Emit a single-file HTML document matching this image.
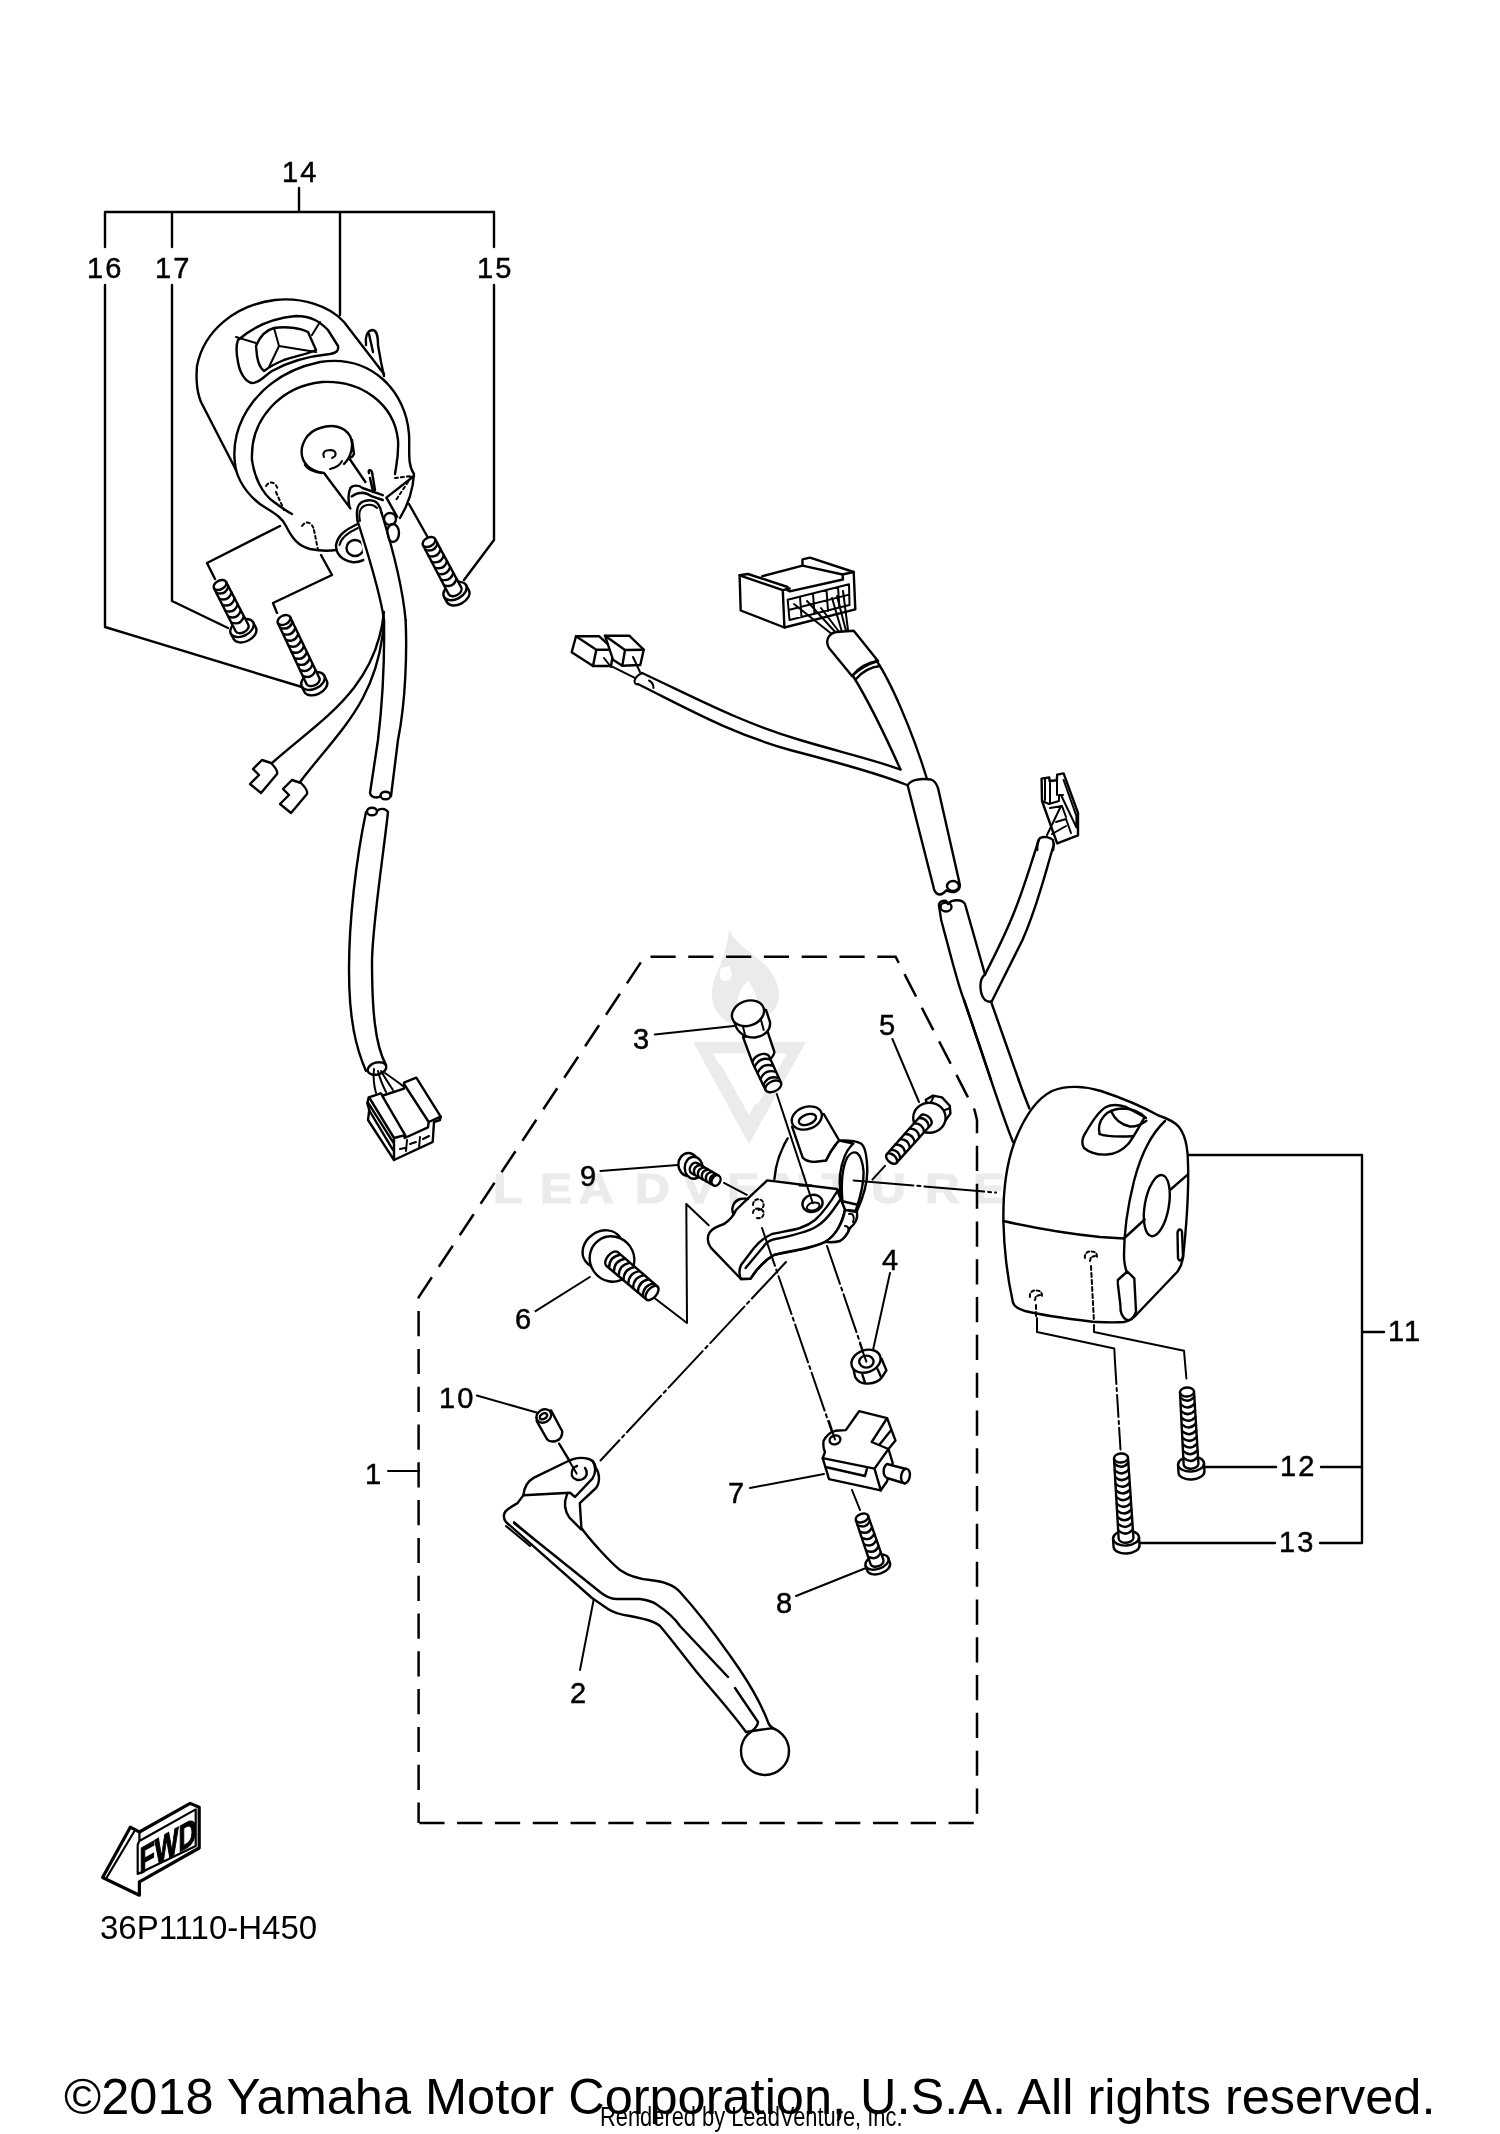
<!DOCTYPE html>
<html><head><meta charset="utf-8">
<style>
html,body{margin:0;padding:0;background:#fff;width:1500px;height:2134px;overflow:hidden}
svg{display:block;position:absolute;left:0;top:0;will-change:transform}
.s{stroke:#000;stroke-width:2.4;fill:none;stroke-linecap:round;stroke-linejoin:round}
.f{stroke:#000;stroke-width:2.4;fill:#fff;stroke-linecap:round;stroke-linejoin:round}
.th{stroke:#000;stroke-width:2;fill:none;stroke-linecap:round;stroke-linejoin:round}
.dl{stroke:#000;stroke-width:2.4;fill:none;stroke-dasharray:24 13}
.dd{stroke:#000;stroke-width:2.2;fill:none;stroke-dasharray:60 6 4 6}
.t{font-family:"Liberation Sans",sans-serif;font-size:29px;fill:#000;stroke:#000;stroke-width:0.5;letter-spacing:2px}
.wm{fill:#e8e8e8}
</style></head>
<body>
<svg width="1500" height="2134" viewBox="0 0 1500 2134">
<!-- watermark -->
<g id="wm" fill="#ebebeb" stroke="none">
<path d="M729,929.7 C727,945 724,958 718,970 C713,980 711,990 712.3,998 C713,1008 718,1016 728,1022 C736,1026 748,1026 758,1022 C772,1016 780,1005 779,993 C778,980 770,968 760,960 C748,950 736,944 729,929.7 Z M721,968 C718,975 720,982 727,981 C733,980 733,972 729,966 Z M748,980 C740,990 734,1000 740,1010 C746,1016 756,1012 757,1004 C758,995 752,988 748,980 Z" fill-rule="evenodd"/>
<path d="M693,1041.8 L806,1041.8 L749,1144 Z M713,1053.6 L787,1053.6 L749,1120 Z" fill-rule="evenodd"/>
<path d="M707,1065 L721,1065 L749,1115 L756,1103 L763,1115 L749,1141 Z"/>
<text transform="scale(1.12 1)" x="440.2 482.1 517.0 567.0 609.8 649.1 691.1 733.9 777.7 825.9 868.7" y="1203" style="font-family:'Liberation Sans',sans-serif;font-weight:bold;font-size:43px" stroke="#ebebeb" stroke-width="1.2">LEADVENTURE</text>
</g>
<!-- top-left switch housing 14 -->
<g id="housing14">
<!-- back housing outline -->
<path class="s" d="M236,470 L201,402 C196,390 196,378 197,366 C204,330 236,305 275,300 C302,297 330,306 344,322 L384,374"/>
<!-- lever tab -->
<path class="s" d="M366,345 C365,337 367,331 372,330 C377,330 378,336 378,345 L381,362 L384,376 M369,334 L373,352"/>
<!-- front ring outer -->
<path class="s" d="M236,470 C226,422 262,374 320,362 C372,354 406,392 409,434 C410,450 407,464 414,474 C413,492 406,508 400,518"/>
<!-- front ring inner -->
<path class="s" d="M252,460 C250,418 282,386 322,382 C362,380 394,404 398,440 C399,456 396,466 395,474"/>
<path class="s" d="M252,460 C254,476 262,494 274,502 C282,508 288,512 292,514"/>
<!-- bottom contour -->
<path class="s" d="M236,470 C240,485 252,500 266,508 C276,514 282,518 286,526 C292,538 298,546 310,549 C320,551 330,551 336,550"/>
<!-- switch recess outer -->
<path class="s" d="M238,340 C254,326 274,318 296,316 C312,316 320,322 328,330 L338,346 C339,351 336,353 330,354 C310,356 290,361 272,371 C264,376 260,383 252,383 C246,382 240,374 238,362 C236,352 236,345 238,340 Z"/>
<!-- switch inner -->
<path class="s" d="M256,346 C260,336 266,330 274,328 C286,326 300,328 308,332 L316,350 C308,354 296,356 284,360 C274,364 268,368 264,371 C260,368 258,362 257,356 Z"/>
<path class="th" d="M236,337 L256,343 M274,328 L279,346 L316,352 M279,346 L269,367 M320,322 L312,335"/>
<!-- keyhole disc -->
<path class="s" d="M344,464 C352,456 354,444 350,436 C344,426 332,424 320,428 C306,432 300,446 302,456 C304,466 314,472 324,473 L350.4,508.4 M352,440 L354,454 C353,456 351,458 349,458 L365.4,482"/>
<path class="s" d="M305,465 C308,470 314,472 322,473"/>
<path class="th" d="M324,457 C322,452 325,450 331,450 C337,451 337,456 332,458 M330,469 C335,468 340,465 342,461"/>
<!-- collar & cable cap -->
<path class="s" d="M349.5,507 C348,500 348,494 350.4,488 C352,486 354,485.6 356.4,485.6 C359,485.6 361,486.5 362.4,488 L382.8,495.2 M351.6,496.4 C355,494 359,492.8 362.4,492.8 C366,493 369,494.5 372,496.4 L382.8,500"/>
<path class="s" d="M369,473 C368,470 371,469 372,472 L375,490 M370,478 L373,492"/>
<path class="s" d="M386.4,497.6 L414,476 M386.4,497.6 L397.2,516.8"/>
<ellipse class="s" cx="390" cy="519" rx="6" ry="6"/>
<ellipse class="s" cx="393" cy="533" rx="6" ry="9"/>
<!-- mount tab -->
<path class="f" d="M336,545 C338,535 345,530 357.6,524 C362,522 366,524 367,528 L372,555 C365,560 358,563 352,562 C342,560 336,555 336,545 Z"/>
<path class="th" d="M339.5,545 C341,538 347,533 358,528"/>
<ellipse class="s" cx="355" cy="548" rx="8.5" ry="8"/>
<path fill="#fff" stroke="none" d="M357.6,521 C356,512 357,505 362,502 C368,499 375,500 378,504 C380,507 381,510 381.6,513 L395,570 L366,570 Z"/>
<path class="s" d="M357.6,521 C356,512 357,505 362,502 C368,499 375,500 378,504 C380,507 381,510 381.6,513"/>
<path class="th" d="M360,521 C358.5,514 360,508 364,506 C369,504 374,505 377,508"/>
<path class="s" d="M357.6,521 C365,545 380,590 384,620 M381.6,513 C390,540 402,580 405.6,620"/>
<!-- dashed details -->
<path class="th" stroke-dasharray="3 3" d="M266,486 C270,480 276,482 278,490 M276,492 L284,510 M302,526 C306,520 312,522 314,530 M314,530 L318,550 M395,478 L412,476 L396,500"/>
</g>

<!-- TL cables & connectors -->
<g id="tlcables">
<path class="s" d="M280,526 L207,563 L215,579 M321,555 L332,575 L273,603 L277,613 M409,504 L427,536"/>
<!-- main cable upper -->
<path class="s" d="M384,620 C384.5,650 384,690 378,740 L370,793 C371,797 376,799 381,796"/>
<path class="s" d="M405.6,620 C407,650 406,700 398,740 L391,796"/>
<ellipse class="s" cx="385.5" cy="795.5" rx="5" ry="3.8"/>
<!-- small wires -->
<path class="s" d="M384,612 C376,690 320,720 272,763"/>
<path class="s" d="M384,622 C378,700 340,730 300,782"/>
<path class="s" d="M253,769 L262,760 L271,763 C274,766 278,771 277,774 L261,793 L250,784 L259,775 Z"/>
<path class="s" d="M283,789 L292,780 L301,783 C304,786 308,791 307,794 L291,813 L280,804 L289,795 Z"/>
<!-- lower cable -->
<path class="s" d="M366,812 C356,860 349,920 349,970 C349,1020 356,1048 366,1071"/>
<path class="s" d="M377,811 C380,808 385,808 388,812 C384,850 373,920 372,960 C372,1010 375,1045 386,1065"/>
<ellipse class="s" cx="372" cy="811.5" rx="5" ry="3.8"/>
<ellipse class="s" cx="377" cy="1068.5" rx="9.5" ry="6" transform="rotate(-15 377 1068.5)"/>
<path class="th" d="M374,1069 C373,1078 374,1086 376,1093 M378,1071 C380,1080 383,1086 386,1092 M381,1071 C385,1078 389,1084 393,1090 M385,1073 C392,1078 398,1082 403,1086"/>
<!-- connector -->
<path class="f" d="M368.7,1097.3 L380.7,1093.3 L383,1095.5 L404,1088.7 L404,1082.7 L416.3,1077.7 L440.7,1116.7 L440,1120 L434,1122 L432.7,1142 L394,1160 L368,1120 L369.3,1110 L367.3,1103.3 Z"/>
<path class="s" d="M368,1102.7 L393.3,1142.7 M369.5,1098 L394,1138 M382,1095.3 L405.3,1135.3 M404,1084 L428.7,1122 L428,1127.3 L404.7,1138 L404,1135.3 L394,1138 L394,1160 M428.7,1122 L440.7,1116.7 M369,1110 L393,1150"/>
<path class="th" d="M400,1149 L405,1148 M407,1140 L406,1151 M410,1144 L416,1142 M420,1137 L419,1148 M423,1139 L429,1136"/>
</g>
<!-- harness right -->
<g id="harness">
<!-- 10-pin connector -->
<path class="f" d="M739.6,575.3 L748,574 L787.6,587 L787,590 L789.7,591.3 L843,579.5 L842.5,574.5 L802.5,565.7 L802.5,559.3 L810,557.7 L853.7,572 L855.3,609.4 L784.4,627.5 L740.7,610.5 Z"/>
<path class="s" d="M762,576.3 L802.5,565.7 M739.6,575.3 L782.8,590.2 L784.4,627.5 M782.8,590.2 L789.7,588.5 M842.5,574.5 L853.7,572"/>
<path class="th" d="M787.7,599.8 L849,584.3 L849.5,605 L789.5,620 Z M788.6,610 L849.2,594.6 M800,597 L801.5,617 M813,593.5 L814.5,614 M826.5,590 L828,611 M838,587.5 L839.5,607.5"/>
<path class="th" d="M794,604 L833,635 M807,601 L837,634 M821,608 L840,633 M832,598 L842,632 M837,596 L846,631 M843,591 L848,630"/>
<!-- sleeve at connector -->
<path class="f" d="M829,648 C825,641 828,634 836,632 L853.7,630.7 L878,661 C871,663 860,668 852,676 Z"/>
<path class="s" d="M852,676 C858,668 868,662 878,661 M856,679 C862,672 871,667 880,666"/>
<!-- thick cable upper -->
<path class="s" d="M853,676 C868,700 885,735 900.5,769.5 M876,660 C890,680 912,730 927,779"/>
<!-- small connectors -->
<path class="f" d="M576,636.3 L599.3,636.3 L613.7,649.7 L611,666 L593,666 L571.7,652.3 Z"/>
<path class="s" d="M576,636.3 L596.3,649.7 L613.7,649.7 M596.3,649.7 L593,666"/>
<path class="f" d="M605,635.7 L629.3,635.7 L643.7,649.7 L640.3,665 L622.3,665.7 L613,659.7 Z"/>
<path class="s" d="M605,635.7 L625,650 L643.7,649.7 M625,650 L622.3,665.7"/>
<path class="th" d="M604,658 L611,667 M633,657 L640,672 M611.7,666.3 L634.3,677.7"/>
<!-- thin wire -->
<path class="s" d="M642,673 C700,700 740,722 800,740 C840,752 875,760 900.5,769.5"/>
<path class="s" d="M638.3,684.3 C690,710 730,733 790,750 C840,763 880,774 907,785"/>
<path class="th" d="M642.3,673 C638,675 635,678 634.5,681 C634.5,683.5 636,684.5 638.3,684.3 M649,680.5 C652,682 653.5,685 653.5,688"/>
<!-- upper harness sleeve -->
<path class="f" d="M907.7,785.5 C910,780 920,778 931,779.5 C935,781 937,785 938,788 L959.5,883 C961,888 958,892 952,892 L946,890.5 C942,896 936,896 934,889 Z"/>
<ellipse class="s" cx="953" cy="886" rx="6" ry="5"/>
<!-- lower harness -->
<path class="s" d="M939.2,907 C938,903 941,900 946,901 L948,904 C952,899 962,899 965,904 L985,974.5"/>
<path class="s" d="M939.2,907 C940,915 942,925 944.5,932.5 C952,960 958,985 964,1000 L991,1080"/>
<ellipse class="s" cx="946" cy="907" rx="5.5" ry="4.5"/>
<path class="s" d="M991,1001.5 L1018.7,1080"/>
<path class="s" d="M964,1000 C985,1060 1000,1110 1013,1142"/>
<path class="s" d="M1018.7,1080 C1022,1090 1026,1100 1029.4,1108.5"/>
<!-- branch wire -->
<path class="s" d="M985,974.5 C978,980 980,995 985,1000 C988,1002 990,1002 991.7,1001.5 C1005,975 1015,955 1022.5,940 C1038,905 1046,870 1054,844"/>
<path class="s" d="M985,974.5 C995,955 1008,928 1015,910 C1025,885 1032,860 1039,839.5"/>
<!-- right connector -->
<path class="f" d="M1041.6,778.6 L1049.2,777.4 L1049.6,781 L1056.8,780.2 L1057.2,774.6 L1063.6,773.4 L1078,813 L1078,835.4 L1057.2,843.4 L1042,801 Z"/>
<path class="th" d="M1063.6,780 L1076.4,816 L1076.4,827.4 M1061,795 L1076.4,827.4 M1042,801 L1049,804 L1059,801 L1059,795 L1063,795 M1045,779 L1045,800 M1050,782 L1050,803 M1057,781 L1057,795 M1050,808 L1062,806 L1066,817 M1056,822 L1066,819 L1071,833 M1047,835 L1061,806 M1052,834 L1066,826"/>
<path class="s" d="M1037.2,850 C1037,844 1038,840 1040,838 C1044,836 1050,837 1053,840 C1054,843 1054,846 1053.2,850"/>
</g>
<!-- right housing 11 -->
<g id="housing11">
<path class="f" d="M1014.7,1141.5 C1023,1120 1034,1100 1052,1091 C1066,1085 1085,1086 1101,1091 C1125,1099 1145,1108 1158.5,1115.5 C1166,1118 1174,1121 1179,1127 C1186,1136 1188,1150 1188,1164 C1189,1195 1186,1230 1183,1258 C1182,1264 1180,1268 1177.6,1271.5 L1138,1313 C1134,1318 1130,1321 1124,1322 C1110,1323 1100,1322 1092.7,1321.7 C1070,1319 1045,1316 1025,1311 C1018,1309 1014,1306 1013,1302.7 C1008,1280 1004,1250 1003.4,1221 C1003,1195 1006,1165 1014.7,1141.5 Z"/>
<!-- end cap curve -->
<path class="s" d="M1165,1121 C1150,1135 1140,1158 1134,1181 C1128,1205 1124,1230 1124,1255 C1124,1262 1125,1268 1127.3,1273"/>
<!-- seam -->
<path class="s" d="M1003.4,1221 C1030,1227 1070,1234 1100,1237 L1123.9,1238.5 L1144.7,1219.5"/>
<!-- hole -->
<ellipse class="s" cx="1156.8" cy="1205.6" rx="12" ry="31" transform="rotate(10 1156.8 1205.6)"/>
<path class="s" d="M1170,1190 L1188,1174.4"/>
<!-- button -->
<path class="s" d="M1084,1148 C1081,1143 1082,1138 1086,1132 C1092,1122 1098,1112 1106,1107 C1112,1104 1120,1105 1126,1107 L1144.7,1117.2 C1140,1125 1135,1135 1129,1143 C1123,1150 1116,1154 1107,1154.5 C1098,1155 1090,1153 1084,1148 Z"/>
<path class="s" d="M1099.6,1134 C1098,1128 1099,1122 1104,1116 C1108,1111 1114,1109 1122,1108.5 C1130,1108.5 1138,1110 1146,1118"/>
<path class="s" d="M1111,1111 C1115,1120 1122,1125 1130,1126.5 C1136,1127 1142,1124 1146.4,1120.7 M1099.6,1134 C1104,1136 1115,1137 1132.5,1136.3"/>
<!-- right small tab -->
<path class="s" d="M1177.5,1233 C1178,1229 1181,1228 1182,1232 L1183,1256 C1182,1261 1179,1262 1178,1258 Z"/>
<!-- bottom tab -->
<path class="s" d="M1117.8,1282 L1117.8,1280 L1127.3,1271.5 L1134.3,1278.4 L1136,1311.3 C1134,1318 1130,1321 1127,1320 C1123,1318 1120,1313 1120.4,1305 L1117.8,1283.6"/>
<!-- dashed holes -->
<path class="th" stroke-dasharray="3 2.5" d="M1030,1297 C1029,1292 1033,1290 1037,1290.5 C1042,1291 1043,1295 1041,1298 M1035,1300 L1036,1296 L1040,1295 M1085,1258 C1084,1253 1088,1251 1092,1251.5 C1097,1252 1098,1256 1096,1259 M1090,1261 L1091,1257 L1095,1256"/>
<path class="th" stroke-dasharray="4 3" d="M1036,1305 L1036,1318 M1091,1266 L1094,1322"/>
<!-- leaders -->
<path class="th" d="M1037,1318 L1037,1332 L1114.3,1348.6 L1115,1362 M1094,1325 L1094,1332 L1184,1350.7 L1186.4,1378.5"/>
<path class="th" stroke-dasharray="22 4 3 4" d="M1115,1362 L1120.5,1449.5"/>
</g>
<!-- holder -->
<g id="holder">
<!-- big arc behind -->
<path class="s" d="M787.6,1138.4 C782,1148 778,1158 776,1168 L774.4,1179.2"/>
<!-- boss -->
<path class="f" d="M792.1,1126.7 L802.7,1157.7 C806,1161 812,1162.5 818,1161.5 L826,1160.5 C830,1152 834,1146 839.2,1140.5 L823.8,1114 Z"/>
<path class="s" d="M826,1160.5 C830,1152 834,1146 839.2,1140.5"/>
<ellipse class="f" cx="806.8" cy="1118" rx="15.5" ry="11" transform="rotate(-20 806.8 1118)"/>
<ellipse class="s" cx="807.4" cy="1119.5" rx="9" ry="5" transform="rotate(-20 807.4 1119.5)"/>
<!-- ring -->
<path class="f" d="M839.2,1140.5 C848,1140 856,1141 861,1143.5 C866,1147 867,1158 867.3,1170 C867.5,1185 862,1200 857,1211 L845,1210 C840,1200 839,1190 840,1175 C842,1160 846,1150 853.3,1143.6 Z"/>
<path class="s" d="M842.5,1203 C841,1185 842,1168 847,1158 C850,1153 854,1151.5 857,1153 C861,1156 863,1165 863.6,1172 C864,1185 860,1198 856,1210 M843.5,1201.5 L856.5,1204.5"/>
<!-- body top plate -->
<path class="f" d="M767.2,1180.4 L836.8,1189 L845,1210 C843,1222 836,1236 825,1242 C812,1248 795,1250 774.4,1254.8 C765,1260 756,1270 750.4,1278.8 L741,1279 L710.8,1247.6 C707,1243 707,1236 710,1232 C713,1228 718,1226 724,1224 C730,1220 734,1215 736,1210 L748,1198.4 Z"/>
<path class="s" d="M838,1190 C832,1200 824,1212 815,1220 C810,1224 806,1226 800,1228 C790,1231 780,1232 772,1234 C765,1237 760,1241 754,1248 L741,1265 C739,1270 739,1275 741,1279"/>
<path class="s" d="M840,1200 C832,1212 825,1222 815.2,1227.2 C805,1233 790,1236 774.4,1239.2 C768,1241 765,1244 763.6,1246.4 L745.6,1268"/>
<path class="s" d="M845,1210 C842,1222 836,1236 825,1242 C815,1247 805,1249 774.4,1254.8 C765,1260 756,1270 750.4,1278.8 L741,1279"/>
<path class="s" d="M799.6,1185.2 L811.6,1185.8"/>
<!-- nub -->
<path class="s" d="M733,1213 C731,1207 734,1201 740,1199 C744,1198 746,1199 748,1199"/>
<!-- hole -->
<ellipse class="s" cx="812.5" cy="1203.4" rx="10.2" ry="8.5" transform="rotate(-15 812.5 1203.4)"/>
<ellipse class="th" cx="813.2" cy="1206.5" rx="6.5" ry="3.8" transform="rotate(-15 813.2 1206.5)"/>
<!-- right lugs -->
<path class="f" d="M845,1210 L857,1212 C858,1218 855,1224 850,1228 C848,1233 845,1238 840,1241 C834,1243 828,1242 825,1242 C836,1236 843,1222 845,1210 Z"/>
<path class="th" d="M849,1214 C853,1213 855,1217 853,1222 M845,1226 C849,1226 850,1231 846,1235"/>
<!-- dashed hole in body -->
<path class="th" stroke-dasharray="3 2.5" d="M753,1205 C753,1199 760,1197 763,1202 C765,1206 762,1210 758,1210 M753,1213 C753,1208 760,1207 763,1211 C765,1215 762,1219 757,1218"/>
<!-- leaders -->
<path class="th" d="M776.8,1094 L812.8,1203.2"/>
<path class="th" d="M724,1182.8 L746.8,1194.8"/>
<path class="th" stroke-dasharray="40 4 3 4" d="M762,1228 L834,1438"/>
<path class="th" stroke-dasharray="40 4 3 4" d="M827,1246 L866,1360"/>
<path class="th" stroke-dasharray="60 4 3 4" d="M853.6,1180.4 L996,1192.6"/>
<path class="th" stroke-dasharray="50 4 3 4" d="M786,1262 L600.5,1460.5"/>
<path class="th" d="M885,1165.8 L872.4,1179.6 M892.4,1039 L919,1102"/>
<path class="th" d="M686.3,1204 L708.7,1225.3 M686.3,1204 L687,1323 L645.3,1291"/>
<path class="th" d="M654.8,1034.4 L734,1026 M600.4,1171 L677.7,1165 M535.5,1311.2 L589.9,1277"/>
<path class="th" d="M890,1273 L873,1350 M476.8,1395.5 L536.5,1412.5 M559,1443.5 L577,1472.3"/>
<path class="th" d="M750,1488 L824,1474 M852,1490 L860,1510 M796,1596 L866,1568 M580,1670 L594,1598"/>
<path class="th" d="M388,1471 L419,1471"/>
</g>
<path class="f" d="M925.8,1099.8 L933,1095.6 L942,1097.4 L949.8,1105.8 L950.4,1113.6 L945.6,1120.2 L930,1118 Z"/>
<path class="th" d="M931,1102 L934,1096 M942.5,1111 L950,1108"/>
<ellipse class="f" cx="929.4" cy="1117.8" rx="16.2" ry="15" />
<g transform="translate(891.6,1158.6) rotate(-138.3)" style="stroke-width:1.9">
<path class="f" d="M-6.5,0 L-6.8,51.7 A6.5,3.9 0 0 0 6.8,51.7 L6.5,0 Z"/>
<ellipse class="f" cx="0" cy="0" rx="6.5" ry="3.9"/>
<path class="s" d="M-6.5,5.9 Q0,11.8 6.5,5.9 M-6.5,13.0 Q0,18.9 6.5,13.0 M-6.5,20.1 Q0,26.0 6.5,20.1 M-6.5,27.2 Q0,33.1 6.5,27.2 M-6.5,34.3 Q0,40.2 6.5,34.3 M-6.5,41.4 Q0,47.3 6.5,41.4 M-6.5,48.5 Q0,54.4 6.5,48.5"/>
</g>
<ellipse class="f" cx="688.4" cy="1164.5" rx="10" ry="11.5"/>
<ellipse class="f" cx="693.7" cy="1167.7" rx="9" ry="11"/>
<g transform="translate(716.1,1180.5) rotate(119.7)" style="stroke-width:1.9">
<path class="f" d="M-5.5,0 L-5.8,24.9 A5.5,4.1 0 0 0 5.8,24.9 L5.5,0 Z"/>
<ellipse class="f" cx="0" cy="0" rx="5.5" ry="4.1"/>
<path class="s" d="M-5.5,3.3 Q0,9.5 5.5,3.3 M-5.5,7.9 Q0,14.1 5.5,7.9 M-5.5,12.5 Q0,18.7 5.5,12.5 M-5.5,17.0 Q0,23.2 5.5,17.0 M-5.5,21.6 Q0,27.8 5.5,21.6"/>
</g>
<ellipse class="f" cx="602.5" cy="1249" rx="21" ry="17.5" transform="rotate(-35 602.5 1249)"/>
<ellipse class="f" cx="612" cy="1259" rx="22" ry="23" transform="rotate(-35 612 1259)"/>
<g transform="translate(652.0,1293.0) rotate(130.4)" style="stroke-width:1.9">
<path class="f" d="M-8.5,0 L-8.9,52.5 A8.5,4.7 0 0 0 8.9,52.5 L8.5,0 Z"/>
<ellipse class="f" cx="0" cy="0" rx="8.5" ry="4.7"/>
<path class="s" d="M-8.5,4.9 Q0,11.9 8.5,4.9 M-8.5,11.2 Q0,18.2 8.5,11.2 M-8.5,17.5 Q0,24.5 8.5,17.5 M-8.5,23.8 Q0,30.9 8.5,23.8 M-8.5,30.2 Q0,37.2 8.5,30.2 M-8.5,36.5 Q0,43.5 8.5,36.5 M-8.5,42.8 Q0,49.8 8.5,42.8 M-8.5,49.1 Q0,56.1 8.5,49.1"/>
</g>
<path class="f" d="M743,1037 L752,1061.3 C755,1064 760,1064 766,1062 C771,1059 774,1056 774.4,1052 L767,1029.9 Z"/>
<g transform="translate(773.3,1086.4) rotate(155.0)" style="stroke-width:1.9">
<path class="f" d="M-8.5,0 L-8.9,29.1 A8.5,5.1 0 0 0 8.9,29.1 L8.5,0 Z"/>
<ellipse class="f" cx="0" cy="0" rx="8.5" ry="5.1"/>
<path class="s" d="M-8.5,5.3 Q0,12.9 8.5,5.3 M-8.5,12.0 Q0,19.7 8.5,12.0 M-8.5,18.8 Q0,26.5 8.5,18.8 M-8.5,25.6 Q0,33.2 8.5,25.6"/>
</g>
<path class="f" d="M732,1014 L735,1024 C737,1032 745,1038 755,1037.5 C765,1036 771,1030 770,1022 L766,1010 Z"/>
<ellipse class="f" cx="748" cy="1013.3" rx="16.5" ry="12.3" transform="rotate(-20 748 1013.3)"/>
<path class="th" d="M743,1027 L745.6,1037 M761,1020 L763.7,1030"/><!-- nut 4 -->
<g id="nut4">
<path class="f" d="M852.4,1364 L855.2,1377.2 C858,1382 863,1384 868,1383.6 C875,1383 880,1380 882,1377.2 L886.4,1370.4 L881.6,1358.8 Z"/>
<ellipse class="f" cx="866" cy="1361.2" rx="15" ry="11" transform="rotate(-20 866 1361.2)"/>
<ellipse class="s" cx="866.4" cy="1361.6" rx="7.2" ry="6"/>
<path class="s" d="M862.4,1374.8 L865.2,1383.2 M877.6,1369.2 L880.8,1376.4"/>
<path class="th" d="M860,1344 L866.4,1361.6"/>
</g>
<!-- switch 7 -->
<g id="sw7">
<path class="f" d="M822.7,1458.1 L829,1479.1 L880.8,1490.3 L887.1,1481.2 L892.7,1463 L888.5,1449 L895.5,1440.6 L887.1,1418.2 L859.1,1411.2 L845.8,1430.1 L835.3,1430.8 C830,1432 826,1436 823.5,1441 C823,1446 824,1450 825,1452 Z"/>
<path class="s" d="M822.7,1458.1 L874.5,1468.6 L888.5,1449 M874.5,1468.6 L880.8,1490.3 M825.5,1467 L865,1476 L866.8,1469.3"/>
<path class="s" d="M871.7,1442 L887.1,1418.2 M871.7,1442 L888.5,1449 M880,1444 L890.6,1430.8"/>
<ellipse class="s" cx="835" cy="1439.9" rx="5.5" ry="4.3" transform="rotate(-15 835 1439.9)"/>
<path class="th" d="M829,1421 L835,1439.5"/>
<path class="f" d="M887,1464 L906,1469 L905,1483.5 L887,1478 C883,1476 882,1468 887,1464 Z"/>
<ellipse class="f" cx="905.5" cy="1476" rx="4.3" ry="7.3" transform="rotate(10 905.5 1476)"/>
</g>
<!-- bushing 10 -->
<g id="bush10">
<path class="f" d="M536.6,1420.8 L547,1439.2 C549,1441.5 552,1442 556,1441 C560,1439.5 562.5,1436 562.2,1431.2 L551,1410.4 Z"/>
<ellipse class="f" cx="543.8" cy="1416" rx="7.8" ry="6.3" transform="rotate(-30 543.8 1416)"/>
<ellipse class="s" cx="543.5" cy="1416.3" rx="4" ry="2.6" transform="rotate(-30 543.5 1416.3)"/>
</g>
<!-- lever 2 -->
<g id="lever2">
<circle class="f" cx="765" cy="1751" r="24"/>
<path class="f" d="M523.4,1495.2 C524,1488 528,1481 534,1477.6 L566.2,1462 L573,1459.2 C577,1458 583,1457.6 587,1458.5 C592,1459.5 595,1463 595.8,1468 C598,1471 599,1474 599,1478 C599,1481 598.5,1485 596,1488 L579.8,1503.2 L581.4,1528 C590,1540 610,1562 620,1570 C630,1577 640,1579 650,1580 C660,1581 672,1583 680,1592 C700,1614 725,1648 740,1670 C752,1688 762,1706 768,1722 C769,1725 771,1727 773,1728 L746,1732 C730,1710 710,1688 700,1676 C690,1664 672,1640 660,1626 C654,1621 645,1619 630,1616 C622,1615 614,1613 608,1609 L592,1598 L506,1522 C503,1518 503,1513 507,1510 C512,1506 516,1504 517.4,1503.2 C520,1500 522,1497 523.4,1495.2 Z"/>
<path class="s" d="M523.4,1495.2 L570.2,1492.8 L575,1497 L592.6,1478.4 C596,1473 596,1466 592.6,1460.8 M567,1494.4 C564,1502 564,1510 569.4,1517.6 L581.4,1529.6"/>
<path class="s" d="M514,1523 L600,1592 C605,1596 610,1599 616,1599 L640,1599 C646,1600 652,1601 656,1604 C668,1612 676,1620 680,1626 L728,1677 M735,1688 L758,1722 C758,1726 754,1730 748,1734"/>
<path class="th" d="M506,1526 L530,1546 M514,1522 L535,1540"/>
<path class="th" d="M559,1443.5 L576.6,1473.6"/>
<path class="s" d="M577,1466 C573,1467 571,1471 572,1476 C574,1480 579,1481 583,1479 C587,1477 588,1472 585,1468"/>
</g>
<!-- FWD arrow -->
<g id="fwd" style="stroke-width:3">
<path class="s" style="stroke-width:3.2" d="M102.6,1877.5 L130.3,1827.2 L139.4,1832 L190.1,1803.4 L199.2,1807.3 L199.2,1848 L139.4,1881.8 L139.4,1895.2 Z"/>
<path class="s" style="stroke-width:2.2" d="M107,1877 L134.2,1831.5 M139.4,1841 L195.7,1809.4 L195.7,1846 M137.7,1844.5 L137.7,1874 L195.7,1846 M137.7,1844.5 L139.4,1841 L139.4,1832"/>
<text transform="translate(139.5 1874.5) skewY(-29.5) scale(0.68 1)" style="font-family:'Liberation Sans',sans-serif;font-weight:bold;font-size:37px" fill="#000" stroke="#000" stroke-width="1.3">FWD</text>
</g>
<!-- dashed boundary -->
<path style="stroke:#000;stroke-width:2.5;fill:none;stroke-dasharray:25.2 12.6;stroke-dashoffset:4.7" d="M418.6,1823 L418.6,1297.3 L644.5,956.8 L895.6,956.8 L974.5,1110 L977,1120 L977,1823 L418.6,1823"/>
<!-- labels top-left -->
<g id="labelsTL">
<text class="t" x="282" y="182">14</text>
<text class="t" x="87" y="278">16</text>
<text class="t" x="155" y="278">17</text>
<text class="t" x="477" y="278">15</text>
<path class="s" d="M299,188 V212 M105,212 H494 M105,212 V247 M172,212 V247 M494,212 V247 M340,212 V315"/>
<path class="s" d="M105,285 V627 L302,687 M172,285 V601 L228,628 M494,285 V540 L464,580"/>
</g>

<!-- labels right -->
<g id="labelsR">
<text class="t" x="1388" y="1341">11</text>
<text class="t" x="1280" y="1476">12</text>
<text class="t" x="1279" y="1552">13</text>
<path class="s" d="M1189,1155 H1362 V1543 H1320 M1362,1332 H1384 M1362,1467 H1321 M1204,1467 H1276 M1140,1543 H1275"/>
</g>

<!-- labels center -->
<g id="labelsC">
<text class="t" x="633" y="1048.5">3</text>
<text class="t" x="879" y="1034.5">5</text>
<text class="t" x="580" y="1185.5">9</text>
<text class="t" x="882" y="1269.5">4</text>
<text class="t" x="515" y="1328.5">6</text>
<text class="t" x="439" y="1407.5">10</text>
<text class="t" x="365" y="1483.5">1</text>
<text class="t" x="728" y="1502.5">7</text>
<text class="t" x="776" y="1612.5">8</text>
<text class="t" x="570" y="1702.5">2</text>
</g>

<!-- bottom texts -->
<text x="100" y="1939" style="font-family:'Liberation Sans',sans-serif;font-size:33px" fill="#000">36P1110-H450</text>
<text x="64" y="2114" style="font-family:'Liberation Sans',sans-serif;font-size:50.5px" fill="#000">©2018 Yamaha Motor Corporation, U.S.A. All rights reserved.</text>
<text transform="translate(600 2126) scale(0.81 1)" style="font-family:'Liberation Sans',sans-serif;font-size:27px" fill="#000">Rendered by LeadVenture, Inc.</text>
<g transform="translate(429.0,542.0) rotate(-28.0)" style="stroke-width:1.9">
<path class="f" d="M-12.5,55.5 L-12.5,61.5 A12.5,8 0 0 0 12.5,61.5 L12.5,55.5 Z"/>
<ellipse class="f" cx="0" cy="55.5" rx="12.5" ry="8"/>
<path class="f" d="M-6.8,0 L-7.1,55.5 A6.8,4.4 0 0 0 7.1,55.5 L6.8,0 Z"/>
<ellipse class="f" cx="0" cy="0" rx="6.8" ry="4.4"/>
<path class="s" d="M-6.8,5.4 Q0,12.0 6.8,5.4 M-6.8,12.1 Q0,18.7 6.8,12.1 M-6.8,18.8 Q0,25.4 6.8,18.8 M-6.8,25.5 Q0,32.1 6.8,25.5 M-6.8,32.2 Q0,38.8 6.8,32.2 M-6.8,38.9 Q0,45.5 6.8,38.9 M-6.8,45.6 Q0,52.2 6.8,45.6"/>
</g>
<g transform="translate(284.0,620.0) rotate(-25.4)" style="stroke-width:1.9">
<path class="f" d="M-12.5,67.5 L-12.5,73.5 A12.5,8 0 0 0 12.5,73.5 L12.5,67.5 Z"/>
<ellipse class="f" cx="0" cy="67.5" rx="12.5" ry="8"/>
<path class="f" d="M-6.8,0 L-7.1,67.5 A6.8,4.4 0 0 0 7.1,67.5 L6.8,0 Z"/>
<ellipse class="f" cx="0" cy="0" rx="6.8" ry="4.4"/>
<path class="s" d="M-6.8,5.4 Q0,12.0 6.8,5.4 M-6.8,12.1 Q0,18.7 6.8,12.1 M-6.8,18.8 Q0,25.4 6.8,18.8 M-6.8,25.5 Q0,32.1 6.8,25.5 M-6.8,32.2 Q0,38.8 6.8,32.2 M-6.8,38.9 Q0,45.5 6.8,38.9 M-6.8,45.6 Q0,52.2 6.8,45.6 M-6.8,52.3 Q0,58.9 6.8,52.3 M-6.8,59.0 Q0,65.6 6.8,59.0"/>
</g>
<g transform="translate(220.0,585.0) rotate(-27.1)" style="stroke-width:1.9">
<path class="f" d="M-12.5,48.3 L-12.5,54.3 A12.5,8 0 0 0 12.5,54.3 L12.5,48.3 Z"/>
<ellipse class="f" cx="0" cy="48.3" rx="12.5" ry="8"/>
<path class="f" d="M-6.8,0 L-7.1,48.3 A6.8,4.4 0 0 0 7.1,48.3 L6.8,0 Z"/>
<ellipse class="f" cx="0" cy="0" rx="6.8" ry="4.4"/>
<path class="s" d="M-6.8,5.4 Q0,12.0 6.8,5.4 M-6.8,12.1 Q0,18.7 6.8,12.1 M-6.8,18.8 Q0,25.4 6.8,18.8 M-6.8,25.5 Q0,32.1 6.8,25.5 M-6.8,32.2 Q0,38.8 6.8,32.2 M-6.8,38.9 Q0,45.5 6.8,38.9"/>
</g>
<g transform="translate(1187.0,1392.0) rotate(-3.2)" style="stroke-width:1.9">
<path class="f" d="M-13,72.1 L-13,80.1 A13,7.5 0 0 0 13,80.1 L13,72.1 Z"/>
<ellipse class="f" cx="0" cy="72.1" rx="13" ry="7.5"/>
<path class="f" d="M-7,0 L-7.4,72.1 A7,4.5 0 0 0 7.4,72.1 L7,0 Z"/>
<ellipse class="f" cx="0" cy="0" rx="7" ry="4.5"/>
<path class="s" d="M-7,5.3 Q0,12.2 7,5.3 M-7,12.0 Q0,18.9 7,12.0 M-7,18.7 Q0,25.6 7,18.7 M-7,25.4 Q0,32.3 7,25.4 M-7,32.1 Q0,39.0 7,32.1 M-7,38.8 Q0,45.7 7,38.8 M-7,45.5 Q0,52.4 7,45.5 M-7,52.2 Q0,59.1 7,52.2 M-7,58.9 Q0,65.8 7,58.9 M-7,65.6 Q0,72.5 7,65.6"/>
</g>
<g transform="translate(1121.0,1458.0) rotate(-3.6)" style="stroke-width:1.9">
<path class="f" d="M-13,80.2 L-13,88.2 A13,7.5 0 0 0 13,88.2 L13,80.2 Z"/>
<ellipse class="f" cx="0" cy="80.2" rx="13" ry="7.5"/>
<path class="f" d="M-7,0 L-7.4,80.2 A7,4.5 0 0 0 7.4,80.2 L7,0 Z"/>
<ellipse class="f" cx="0" cy="0" rx="7" ry="4.5"/>
<path class="s" d="M-7,5.3 Q0,12.2 7,5.3 M-7,12.0 Q0,18.9 7,12.0 M-7,18.7 Q0,25.6 7,18.7 M-7,25.4 Q0,32.3 7,25.4 M-7,32.1 Q0,39.0 7,32.1 M-7,38.8 Q0,45.7 7,38.8 M-7,45.5 Q0,52.4 7,45.5 M-7,52.2 Q0,59.1 7,52.2 M-7,58.9 Q0,65.8 7,58.9 M-7,65.6 Q0,72.5 7,65.6 M-7,72.3 Q0,79.2 7,72.3"/>
</g>
<g transform="translate(862.0,1518.0) rotate(-18.8)" style="stroke-width:1.9">
<path class="f" d="M-12,46.5 L-12,51.5 A12,7 0 0 0 12,51.5 L12,46.5 Z"/>
<ellipse class="f" cx="0" cy="46.5" rx="12" ry="7"/>
<path class="f" d="M-6.5,0 L-6.8,46.5 A6.5,4.2 0 0 0 6.8,46.5 L6.5,0 Z"/>
<ellipse class="f" cx="0" cy="0" rx="6.5" ry="4.2"/>
<path class="s" d="M-6.5,5.4 Q0,11.8 6.5,5.4 M-6.5,12.1 Q0,18.5 6.5,12.1 M-6.5,18.8 Q0,25.2 6.5,18.8 M-6.5,25.5 Q0,31.9 6.5,25.5 M-6.5,32.2 Q0,38.6 6.5,32.2 M-6.5,38.9 Q0,45.3 6.5,38.9"/>
</g>
</svg>
</body></html>
